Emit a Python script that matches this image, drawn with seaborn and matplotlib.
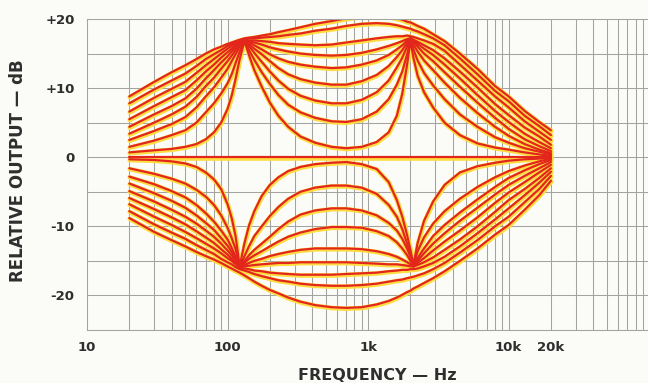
import matplotlib
matplotlib.use("Agg")
import matplotlib.pyplot as plt
import matplotlib.transforms as mtransforms
from matplotlib.ticker import FixedLocator, NullFormatter
import pandas as pd
import seaborn as sns

# Frequency points (Hz) at which every response curve is tabulated
FREQ_HZ = [20, 30, 40, 50, 60, 70, 80, 90, 100, 107, 114, 122, 132,
           142, 155, 175, 200, 230, 270, 330, 420, 550, 700, 900, 1150, 1400, 1600, 1750, 1900, 2000,
           2100, 2250, 2500, 2900, 3500, 4500, 6000, 8000, 10000, 13000, 16500, 20000]

# Boost settings, widest to narrowest (relative output, dB)
lift_1 = [8.8, 10.9, 12.3, 13.3, 14.2, 15.0, 15.6, 16.0, 16.4, 16.6, 16.8, 17.0, 17.2,
          17.3, 17.4, 17.6, 17.8, 18.1, 18.4, 18.8, 19.3, 19.7, 20.1, 20.4, 20.5, 20.4, 20.1, 19.9, 19.6, 19.5,
          19.3, 19.0, 18.6, 17.8, 16.8, 15.0, 12.8, 10.3, 8.8, 6.7, 5.1, 3.9]
lift_2 = [7.8, 9.8, 11.1, 12.1, 13.2, 14.2, 14.9, 15.5, 16.1, 16.4, 16.6, 16.9, 17.1,
          17.2, 17.2, 17.3, 17.4, 17.5, 17.7, 17.9, 18.3, 18.6, 19.0, 19.3, 19.4, 19.3, 19.1, 18.9, 18.7, 18.6,
          18.4, 18.2, 17.8, 17.2, 16.2, 14.3, 12.0, 9.6, 8.1, 6.0, 4.5, 3.2]
lift_3 = [6.6, 8.6, 9.9, 10.9, 12.2, 13.3, 14.2, 15.0, 15.7, 16.1, 16.5, 16.8, 17.0,
          16.9, 16.9, 16.8, 16.7, 16.5, 16.4, 16.3, 16.2, 16.3, 16.6, 16.9, 17.2, 17.4, 17.5, 17.5, 17.6, 17.5,
          17.4, 17.2, 16.9, 16.4, 15.4, 13.4, 11.1, 8.8, 7.2, 5.2, 3.7, 2.5]
lift_4 = [5.5, 7.4, 8.7, 9.7, 11.1, 12.4, 13.4, 14.4, 15.2, 15.7, 16.2, 16.7, 17.0,
          16.8, 16.6, 16.3, 15.9, 15.6, 15.3, 15.0, 14.8, 14.7, 14.8, 15.1, 15.6, 16.1, 16.5, 16.8, 17.1, 17.2,
          17.0, 16.7, 16.2, 15.5, 14.3, 12.4, 10.1, 7.7, 6.1, 4.3, 3.0, 1.8]
lift_5 = [4.4, 6.2, 7.4, 8.5, 9.9, 11.4, 12.6, 13.7, 14.6, 15.3, 15.9, 16.5, 17.0,
          16.7, 16.2, 15.6, 14.9, 14.3, 13.8, 13.4, 13.1, 12.9, 13.0, 13.4, 14.0, 14.8, 15.6, 16.2, 16.9, 17.2,
          16.9, 16.4, 15.7, 14.8, 13.4, 11.4, 9.0, 6.7, 5.1, 3.4, 2.2, 1.3]
lift_6 = [3.4, 5.0, 6.2, 7.3, 8.7, 10.3, 11.5, 12.8, 13.9, 14.7, 15.5, 16.3, 16.9,
          16.4, 15.7, 14.9, 13.9, 12.9, 12.0, 11.3, 10.8, 10.5, 10.5, 11.0, 11.9, 13.2, 14.5, 15.5, 16.6, 17.2,
          16.7, 16.0, 15.0, 13.9, 12.3, 10.2, 7.9, 5.7, 4.1, 2.6, 1.6, 0.9]
lift_7 = [2.5, 3.8, 4.8, 5.8, 7.2, 8.8, 10.1, 11.5, 12.8, 13.9, 14.9, 16.0, 16.9,
          16.1, 15.1, 13.8, 12.4, 11.1, 9.9, 8.9, 8.2, 7.8, 7.8, 8.3, 9.4, 11.1, 13.0, 14.4, 16.1, 17.1,
          16.3, 15.3, 14.0, 12.6, 10.8, 8.6, 6.4, 4.4, 3.1, 1.9, 1.1, 0.6]
lift_8 = [1.5, 2.4, 3.2, 3.9, 5.0, 6.5, 7.8, 9.2, 10.7, 12.0, 13.6, 15.3, 16.9,
          15.5, 14.1, 12.3, 10.6, 9.0, 7.6, 6.5, 5.7, 5.2, 5.1, 5.5, 6.6, 8.4, 10.5, 12.4, 15.0, 17.0,
          15.6, 14.0, 12.2, 10.4, 8.4, 6.2, 4.4, 2.9, 2.1, 1.3, 0.8, 0.4]
lift_9 = [0.7, 1.0, 1.2, 1.5, 1.9, 2.6, 3.6, 5.0, 7.0, 8.9, 11.3, 14.2, 16.8,
          14.8, 12.6, 10.2, 7.9, 6.0, 4.4, 3.0, 2.1, 1.5, 1.3, 1.5, 2.2, 3.6, 6.0, 9.2, 13.6, 16.9,
          14.4, 11.8, 9.4, 7.2, 5.0, 3.2, 2.0, 1.4, 1.1, 0.7, 0.4, 0.2]

# Controls centred
flat = [0.0, 0.0, 0.0, 0.0, 0.0, 0.0, 0.0, 0.0, 0.0, 0.0, 0.0, 0.0, 0.0,
        0.0, 0.0, 0.0, 0.0, 0.0, 0.0, 0.0, 0.0, 0.0, 0.0, 0.0, 0.0, 0.0, 0.0, 0.0, 0.0, 0.0,
        0.0, 0.0, 0.0, 0.0, 0.0, 0.0, 0.0, 0.0, 0.0, 0.0, 0.0, 0.0]

# Cut settings, widest to narrowest (relative output, dB)
cut_1 = [-8.8, -10.8, -12.0, -12.9, -13.7, -14.3, -14.8, -15.3, -15.8, -16.1, -16.4, -16.7, -17.1,
         -17.5, -18.0, -18.6, -19.2, -19.7, -20.3, -20.9, -21.4, -21.7, -21.8, -21.7, -21.3, -20.8, -20.3, -19.9, -19.5, -19.3,
         -19.0, -18.7, -18.2, -17.5, -16.5, -15.0, -13.2, -11.2, -9.8, -7.6, -5.5, -3.4]
cut_2 = [-7.8, -9.7, -10.9, -11.8, -12.7, -13.4, -14.0, -14.7, -15.2, -15.5, -15.9, -16.2, -16.4,
         -16.6, -16.9, -17.2, -17.5, -17.8, -18.0, -18.3, -18.5, -18.6, -18.6, -18.5, -18.3, -18.0, -17.8, -17.7, -17.5, -17.4,
         -17.3, -17.1, -16.8, -16.2, -15.3, -13.8, -12.0, -10.0, -8.6, -6.5, -4.6, -2.7]
cut_3 = [-6.8, -8.6, -9.8, -10.8, -11.7, -12.5, -13.2, -13.9, -14.6, -15.0, -15.5, -16.0, -16.1,
         -16.2, -16.4, -16.5, -16.7, -16.8, -16.9, -17.0, -17.0, -17.0, -16.9, -16.8, -16.7, -16.5, -16.4, -16.3, -16.3, -16.2,
         -16.2, -16.1, -15.8, -15.3, -14.4, -12.9, -11.0, -9.0, -7.4, -5.5, -3.7, -2.1]
cut_4 = [-5.9, -7.5, -8.7, -9.7, -10.7, -11.6, -12.4, -13.3, -14.1, -14.7, -15.3, -15.9, -15.8,
         -15.7, -15.6, -15.5, -15.4, -15.3, -15.3, -15.2, -15.2, -15.2, -15.2, -15.3, -15.4, -15.5, -15.5, -15.6, -15.7, -15.8,
         -15.8, -15.6, -15.2, -14.5, -13.4, -11.9, -10.0, -7.9, -6.2, -4.6, -3.0, -1.6]
cut_5 = [-4.9, -6.4, -7.6, -8.6, -9.6, -10.6, -11.5, -12.5, -13.5, -14.2, -15.0, -15.9, -15.6,
         -15.3, -15.0, -14.7, -14.3, -14.0, -13.7, -13.4, -13.2, -13.2, -13.2, -13.3, -13.6, -14.0, -14.4, -14.8, -15.2, -15.5,
         -15.8, -15.3, -14.6, -13.5, -12.2, -10.6, -8.7, -6.6, -5.1, -3.6, -2.2, -1.1]
cut_6 = [-3.8, -5.2, -6.3, -7.3, -8.4, -9.5, -10.5, -11.7, -12.8, -13.7, -14.7, -15.9, -15.3,
         -14.7, -14.2, -13.6, -12.9, -12.2, -11.5, -10.9, -10.4, -10.1, -10.1, -10.2, -10.7, -11.4, -12.3, -13.2, -14.2, -15.0,
         -15.8, -15.0, -13.9, -12.5, -11.0, -9.2, -7.3, -5.4, -4.0, -2.7, -1.6, -0.7]
cut_7 = [-2.8, -3.9, -4.9, -5.8, -6.9, -8.1, -9.3, -10.6, -11.9, -13.1, -14.4, -15.9, -15.0,
         -14.2, -13.4, -12.5, -11.5, -10.4, -9.3, -8.3, -7.7, -7.4, -7.4, -7.7, -8.4, -9.5, -10.6, -11.8, -13.3, -14.4,
         -15.8, -14.6, -13.2, -11.4, -9.8, -8.0, -6.1, -4.3, -3.0, -1.9, -1.0, -0.4]
cut_8 = [-1.6, -2.4, -3.1, -3.8, -4.7, -5.7, -6.9, -8.4, -10.2, -11.7, -13.3, -15.9, -14.3,
         -12.9, -11.4, -10.0, -8.5, -7.2, -6.0, -5.0, -4.4, -4.1, -4.1, -4.4, -5.3, -6.9, -8.6, -10.4, -12.6, -14.1,
         -15.7, -13.6, -11.6, -9.6, -7.8, -6.0, -4.3, -2.9, -2.0, -1.2, -0.6, -0.2]
cut_9 = [-0.3, -0.4, -0.6, -0.9, -1.4, -2.2, -3.2, -4.6, -6.8, -8.8, -11.4, -15.8, -12.4,
         -9.9, -7.8, -5.6, -4.0, -2.9, -2.0, -1.4, -1.0, -0.8, -0.7, -1.0, -1.7, -3.6, -6.2, -8.6, -11.4, -13.4,
         -15.6, -12.4, -9.2, -6.4, -4.0, -2.2, -1.3, -0.8, -0.5, -0.3, -0.2, -0.1]

X_TICKS = [10, 100, 1000, 10000, 20000]
X_TICK_LABELS = ["10", "100", "1k", "10k", "20k"]
Y_TICKS = [-20, -10, 0, 10, 20]
Y_TICK_LABELS = ["-20", "-10", "0", "+10", "+20"]

curves = {
    "lift_1": lift_1, "lift_2": lift_2, "lift_3": lift_3, "lift_4": lift_4, "lift_5": lift_5,
    "lift_6": lift_6, "lift_7": lift_7, "lift_8": lift_8, "lift_9": lift_9,
    "flat": flat,
    "cut_1": cut_1, "cut_2": cut_2, "cut_3": cut_3, "cut_4": cut_4, "cut_5": cut_5,
    "cut_6": cut_6, "cut_7": cut_7, "cut_8": cut_8, "cut_9": cut_9,
}
df = pd.concat(
    [pd.DataFrame({"freq": FREQ_HZ, "db": vals, "curve": name}) for name, vals in curves.items()],
    ignore_index=True,
)

sns.set_theme(style="white")
plt.rcParams["font.family"] = ["DejaVu Sans"]

PAPER = "#fbfbf8"
GRID = "#a3a3a1"
INK = "#2e2e2e"

fig = plt.figure(figsize=(6.48, 3.83), dpi=100)
fig.patch.set_facecolor(PAPER)
ax = fig.add_axes([87 / 648, 53 / 383, 561 / 648, 311 / 383])
ax.set_facecolor(PAPER)

# yellow ink layer, printed slightly out of register, then the red trace on top
sns.lineplot(data=df, x="freq", y="db", units="curve", estimator=None, sort=False,
             color="#ffdc40", linewidth=3.3, legend=False, ax=ax)
shift = mtransforms.ScaledTranslation(0.3 / 72, -0.6 / 72, fig.dpi_scale_trans)
for ln in ax.lines:
    ln.set_transform(ln.get_transform() + shift)
sns.lineplot(data=df, x="freq", y="db", units="curve", estimator=None, sort=False,
             color="#e2261c", linewidth=1.6, legend=False, ax=ax)
for ln in ax.lines:
    ln.set_solid_capstyle("round")
    ln.set_solid_joinstyle("round")

ax.set_xscale("log")
ax.set_xlim(10, 98000)
ax.set_ylim(-25, 20)

ax.xaxis.set_major_locator(FixedLocator(X_TICKS))
ax.set_xticklabels(X_TICK_LABELS)
minor_x = [m * d for d in (10, 100, 1000, 10000) for m in range(2, 10) if m * d != 20000]
ax.xaxis.set_minor_locator(FixedLocator(minor_x))
ax.xaxis.set_minor_formatter(NullFormatter())

ax.yaxis.set_major_locator(FixedLocator(Y_TICKS))
ax.set_yticklabels(Y_TICK_LABELS)
ax.yaxis.set_minor_locator(FixedLocator([-25, -15, -5, 5, 15]))
ax.yaxis.set_minor_formatter(NullFormatter())

ax.grid(which="both", color=GRID, linewidth=0.75)
ax.set_axisbelow(True)
for side in ("left", "top", "bottom"):
    ax.spines[side].set_color(GRID)
    ax.spines[side].set_linewidth(0.75)
ax.spines["right"].set_visible(False)

ax.tick_params(which="both", length=0)
ax.tick_params(axis="y", pad=9, labelsize=9.5, labelcolor=INK)
ax.tick_params(axis="x", pad=8, labelsize=9.5, labelcolor=INK)
for lab in ax.get_xticklabels() + ax.get_yticklabels():
    lab.set_fontweight("bold")

ax.set_xlabel("")
ax.set_ylabel("")
fig.text(18 / 648, 1 - 171 / 383, "RELATIVE OUTPUT \u2014 dB", rotation=90,
         ha="center", va="center", fontsize=12, fontweight="bold", color=INK)
fig.text(377 / 648, 1 - 376 / 383, "FREQUENCY \u2014 Hz",
         ha="center", va="center", fontsize=11.5, fontweight="bold", color=INK)

fig.savefig("out.png", dpi=100, facecolor=PAPER)
